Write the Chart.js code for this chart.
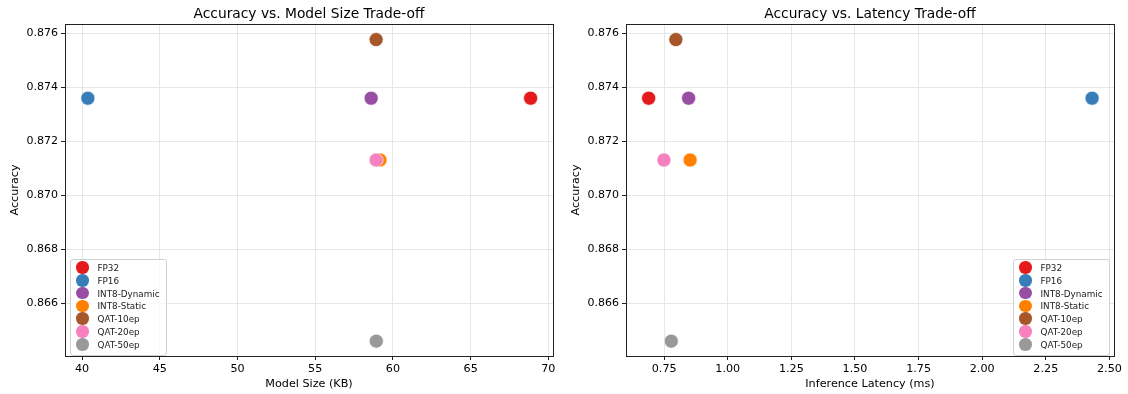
<!DOCTYPE html>
<html>
<head>
<meta charset="utf-8">
<script src="https://cdn.jsdelivr.net/npm/chart.js@4"></script>
<style>
  body { margin: 0; background: #fff; }
  #wrap { position: relative; width: 1128px; height: 394px; font-family: 'DejaVu Sans', sans-serif; }
  .pane { position: absolute; top: 0; }
  .legenda {
    position: absolute; top: 259px; width: 95px; padding: 2px 0 3px 0;
    border: 1px solid #d0d0d0; border-radius: 3px; background: rgba(255,255,255,0.8);
    font-size: 8.8px; color: #222;
  }
  .legenda div { height: 12.8px; line-height: 12.8px; white-space: nowrap; }
  .legenda span.pt {
    display: inline-block; width: 12.5px; height: 12.5px; border-radius: 50%;
    vertical-align: middle; margin: 0 9px 0 5px; position: relative; top: -1px;
  }
</style>
</head>
<body>
<div id="wrap">
  <div class="pane" style="left:0"><canvas id="graficoSize" width="564" height="394"></canvas></div>
  <div class="pane" style="left:564px"><canvas id="graficoLat" width="564" height="394"></canvas></div>
  <div class="legenda" id="legSize" style="left:70px"></div>
  <div class="legenda" id="legLat" style="left:1013px"></div>
</div>
<script>
const metodi = ['FP32', 'FP16', 'INT8-Dynamic', 'INT8-Static', 'QAT-10ep', 'QAT-20ep', 'QAT-50ep'];
const dimensioneKB = [68.86, 40.37, 58.60, 59.17, 58.92, 58.92, 58.93];
const latenzaMs = [0.689, 2.432, 0.846, 0.852, 0.796, 0.749, 0.778];
const accuratezza = [0.87360, 0.87360, 0.87360, 0.87131, 0.87577, 0.87131, 0.86460];

const colori = [
    '#e41a1c', // rosso
    '#377eb8', // blu
    '#984ea3', // viola
    '#ff7f00', // arancio
    '#a65628', // marrone
    '#f781bf', // rosa
    '#999999'  // grigio
];

const FONT = "'DejaVu Sans', sans-serif";

// cornice completa attorno all'area del grafico
const cornice = {
    id: 'cornice',
    afterDraw(chart) {
        const { left, top, right, bottom } = chart.chartArea;
        const ctx = chart.ctx;
        ctx.save();
        ctx.strokeStyle = '#222';
        ctx.lineWidth = 1;
        ctx.strokeRect(Math.round(left) + 0.5, Math.round(top) + 0.5, Math.round(right - left), Math.round(bottom - top));
        ctx.restore();
    }
};

function creaGrafico(idElemento, valoriX, opz) {
    const datasets = metodi.map((m, i) => ({
        label: m,
        data: [{ x: valoriX[i], y: accuratezza[i] }],
        backgroundColor: colori[i],
        borderColor: '#ffffff',
        borderWidth: 0.6,
        pointRadius: 7,
        pointHoverRadius: 7,
        order: metodi.length - i
    }));

    const ctx = document.getElementById(idElemento).getContext('2d');
    return new Chart(ctx, {
        type: 'scatter',
        data: { datasets },
        plugins: [cornice],
        options: {
            responsive: false,
            animation: false,
            devicePixelRatio: 1,
            layout: { padding: { left: 0, right: opz.padDestra, top: 0, bottom: 0 } },
            plugins: {
                legend: { display: false },
                tooltip: { enabled: false },
                title: {
                    display: true,
                    fullSize: false,
                    text: opz.titolo,
                    color: '#000',
                    font: { size: 13.8, family: FONT, weight: 'normal' },
                    padding: { top: 6, bottom: 1.4 }
                }
            },
            scales: {
                x: {
                    type: 'linear',
                    min: opz.xMin,
                    max: opz.xMax,
                    afterFit: s => { s.height = 38; },
                    grid: { color: '#e6e6e6', tickColor: '#222', tickLength: 4 },
                    border: { display: false },
                    ticks: {
                        stepSize: opz.passoX,
                        includeBounds: false,
                        padding: 2,
                        color: '#000',
                        font: { size: 11.2, family: FONT },
                        maxRotation: 0,
                        callback: v => v.toFixed(opz.decimaliX)
                    },
                    title: {
                        display: true,
                        text: opz.titoloX,
                        color: '#000',
                        font: { size: 11.2, family: FONT },
                        padding: { top: 0, bottom: 3 }
                    }
                },
                y: {
                    type: 'linear',
                    min: 0.86405,
                    max: 0.87635,
                    afterFit: s => { s.width = opz.largY; },
                    grid: { color: '#e6e6e6', tickColor: '#222', tickLength: 4 },
                    border: { display: false },
                    ticks: {
                        stepSize: 0.002,
                        includeBounds: false,
                        padding: 3,
                        color: '#000',
                        font: { size: 11, family: FONT },
                        callback: v => v.toFixed(3)
                    },
                    title: {
                        display: true,
                        text: 'Accuracy',
                        color: '#000',
                        font: { size: 11.2, family: FONT },
                        padding: { top: opz.padTitoloY, bottom: 0 }
                    }
                }
            }
        }
    });
}

function creaLegenda(idElemento) {
    const box = document.getElementById(idElemento);
    metodi.forEach((m, i) => {
        const riga = document.createElement('div');
        const pt = document.createElement('span');
        pt.className = 'pt';
        pt.style.background = colori[i];
        riga.appendChild(pt);
        riga.appendChild(document.createTextNode(m));
        box.appendChild(riga);
    });
}

creaGrafico('graficoSize', dimensioneKB, {
    titolo: 'Accuracy vs. Model Size Trade-off',
    titoloX: 'Model Size (KB)',
    xMin: 38.9, xMax: 70.3, passoX: 5, decimaliX: 0,
    largY: 65, padTitoloY: 8, padDestra: 11
});

creaGrafico('graficoLat', latenzaMs, {
    titolo: 'Accuracy vs. Latency Trade-off',
    titoloX: 'Inference Latency (ms)',
    xMin: 0.600, xMax: 2.518, passoX: 0.25, decimaliX: 2,
    largY: 62, padTitoloY: 5, padDestra: 14
});

creaLegenda('legSize');
creaLegenda('legLat');
</script>
</body>
</html>
